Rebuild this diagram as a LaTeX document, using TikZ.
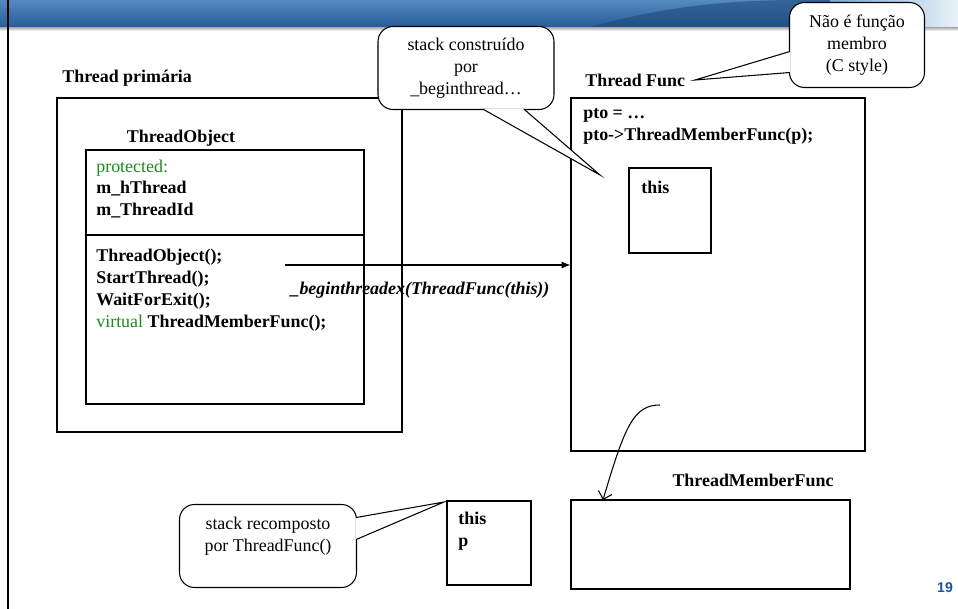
\documentclass[tikz,border=0pt]{standalone}
\usepackage{fontspec}
\setmainfont{Liberation Serif}
\setsansfont{Liberation Sans}
\usetikzlibrary{fit,arrows.meta}
\definecolor{codegreen}{RGB}{25,140,25}
\definecolor{bannertop}{RGB}{85,138,192}
\definecolor{bannermid}{RGB}{118,168,214}
\definecolor{bannerbot}{RGB}{38,92,152}
\definecolor{bannerdark}{RGB}{28,70,120}
\definecolor{pagenum}{RGB}{30,80,150}

\begin{document}
\begin{tikzpicture} [x=0.02cm, y=-0.02cm,
 font=\fontsize{10.2}{12.5}\selectfont,
 box/.style = {draw, line width=0.6pt, inner sep=0pt},
 txt/.style = {inner sep=0pt, align=left, font=\fontsize{10.2}{12.5}\selectfont\bfseries},
 bubble/.style = {draw, fill=white, line width=0.6pt, rounded corners=0.3cm,
 align=center, inner sep=2pt, minimum width=#1, minimum height=1.66cm},
 pointer/.style = {draw, fill=white, line width=0.6pt}]
 \useasboundingbox (0,0) rectangle (958,609);

 % slide banner
 \shade [top color=bannertop, middle color=bannermid, bottom color=bannerbot] (0,0) rectangle (958,27);
 \fill [bannerdark, opacity=0.55] (590,27) .. controls (660,8) and (720,0) .. (800,0) -- (830,0) -- (830,27) -- cycle;
 \shade [left color=bannermid, right color=white!85!bannermid] (830,0) rectangle (958,27);
 \shade [top color=black!35, bottom color=white] (0,27) rectangle (958,31);
 \draw [line width=1.2pt] (8,0) -- (8,609);

 % thread primaria
 \node [txt, anchor=west] (primlbl) at (62,78) {Thread primária};
 \node [box, fit={(57,98) (402,432)}] (prim) {};
 \node [txt] (tobjlbl) at (181,138) {ThreadObject};
 \node [box, fit={(86,150) (364,404)}] (tobj) {};
 \coordinate (divy) at (0,235);
 \draw [line width=1.6pt] (tobj.west |- divy) -- (tobj.east |- divy);
 \node [txt, anchor=west] (attrs) at (96,189)
 {{\mdseries\color{codegreen}protected:}\\ m\_hThread\\ m\_ThreadId};
 \node [txt, anchor=west] (methods) at (96,290)
 {ThreadObject();\\ StartThread();\\ WaitForExit();\\
 {\mdseries\color{codegreen}virtual} ThreadMemberFunc();};

 % thread func
 \node [txt, anchor=west] (funclbl) at (585,80) {Thread Func};
 \node [box, fit={(571,98) (865,451)}] (tfunc) {};
 \node [txt, anchor=west] (ptolines) at (583,126) {pto = \dots\\ pto->ThreadMemberFunc(p);};
 \node [box, fit={(629,168) (711,253)}] (thisbox) {};
 \node [txt, anchor=west] (thistxt) at (641,187) {this};

 % call
 \coordinate (callstart) at (285,265);
 \draw [-{Latex[length=5pt,width=4pt]}, line width=0.6pt] (callstart) -- (callstart -| tfunc.west);
 \node [txt, font=\fontsize{10.2}{12.5}\selectfont\bfseries\itshape] (calllbl) at (420,290)
 {\_beginthreadex(ThreadFunc(this))};

 % member func
 \node [txt] (tmflbl) at (753,480) {ThreadMemberFunc};
 \node [box, fit={(571,500) (850,589)}] (tmf) {};
 \coordinate (curvestart) at (660,405);
 \coordinate (curveend) at (603,500);
 \draw [-{Straight Barb[length=4pt]}, line width=0.6pt] (curvestart) .. controls (634,405) and (625,425) .. (curveend);

 % recomposed stack
 \node [box, fit={(447,501) (531,585)}] (stackbox) {};
 \node [txt, anchor=west] (stacktxt) at (458,531) {this\\ p};

 % callouts
 \node [bubble=3.52cm] (buildnote) at (466,68) {stack construído\\ por\\ \_beginthread\dots};
 \coordinate (buildtip) at (600,175);
 \path [pointer] ([xshift=0.34cm,yshift=0.5pt]buildnote.south) -- (buildtip)
 -- ([xshift=1.16cm,yshift=0.5pt]buildnote.south);
 \node [bubble=2.7cm, minimum height=1.7cm] (cnote) at (857,45) {Não é função\\ membro\\ (C style)};
 \coordinate (ctip) at (695,80);
 \path [pointer] ([yshift=-0.13cm,xshift=0.5pt]cnote.west) -- (ctip)
 -- ([yshift=-0.55cm,xshift=0.5pt]cnote.west);
 \node [bubble=3.54cm] (recnote) at (268,546) {stack recomposto\\ por ThreadFunc()\\[-3pt] \strut};
 \coordinate (rectip) at (444,502);
 \path [pointer] ([yshift=0.57cm,xshift=-0.5pt]recnote.east) -- (rectip)
 -- ([yshift=0.13cm,xshift=-0.5pt]recnote.east);

 \node [font=\sffamily\bfseries\fontsize{8}{8}\selectfont, text=pagenum] (pgnum) at (945,588) {19};
\end{tikzpicture}
\end{document}
